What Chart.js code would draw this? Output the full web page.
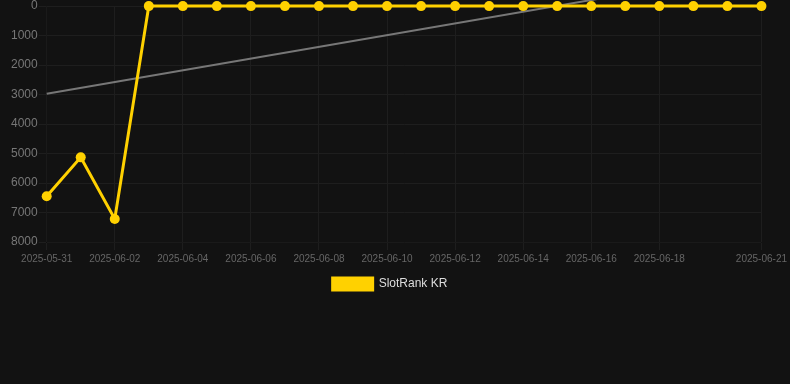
<!DOCTYPE html>
<html>
<head>
<meta charset="utf-8">
<script src="https://cdn.jsdelivr.net/npm/chart.js@4.4.1/dist/chart.umd.min.js"></script>
<style>
  html, body { margin: 0; padding: 0; background: #121212; }
  .wrap { position: relative; width: 790px; height: 300px; }
</style>
</head>
<body>
<div class="wrap"><canvas id="rankChart"></canvas></div>
<script>
  // Data
  const dates = ['2025-05-31','2025-06-01','2025-06-02','2025-06-03','2025-06-04','2025-06-05',
    '2025-06-06','2025-06-07','2025-06-08','2025-06-09','2025-06-10','2025-06-11','2025-06-12',
    '2025-06-13','2025-06-14','2025-06-15','2025-06-16','2025-06-17','2025-06-18','2025-06-19',
    '2025-06-20','2025-06-21'];
  const rankValues = [6450, 5130, 7220, 0, 0, 0, 0, 0, 0, 0, 0, 0, 0, 0, 0, 0, 0, 0, 0, 0, 0, 0];
  // trend line end points (first and last day)
  const trendValues = [2970, -1200];
  // dates shown on the x axis
  const xTickDates = ['2025-05-31','2025-06-02','2025-06-04','2025-06-06','2025-06-08','2025-06-10',
    '2025-06-12','2025-06-14','2025-06-16','2025-06-18','2025-06-21'];
  const yTicks = [0, 1000, 2000, 3000, 4000, 5000, 6000, 7000, 8000];

  const yellow = '#FFD100';

  new Chart(document.getElementById('rankChart'), {
    type: 'line',
    data: {
      labels: dates,
      datasets: [
        {
          label: 'SlotRank KR',
          data: rankValues,
          borderColor: yellow,
          backgroundColor: yellow,
          borderWidth: 3,
          pointRadius: 5,
          pointHoverRadius: 5,
          pointBackgroundColor: yellow,
          pointBorderWidth: 0,
          tension: 0,
          clip: false
        },
        {
          label: 'trend',
          data: [
            { x: dates[0], y: trendValues[0] },
            { x: dates[dates.length - 1], y: trendValues[1] }
          ],
          borderColor: '#777777',
          backgroundColor: '#777777',
          borderWidth: 2,
          pointRadius: 0,
          tension: 0,
          clip: false
        }
      ]
    },
    options: {
      responsive: true,
      maintainAspectRatio: false,
      animation: false,
      layout: { padding: { left: 10, right: 20 } },
      plugins: {
        legend: {
          position: 'bottom',
          labels: {
            color: '#dddddd',
            font: { size: 12, family: 'Liberation Sans, Arial, sans-serif' },
            filter: item => item.text !== 'trend'
          }
        },
        tooltip: { enabled: false }
      },
      scales: {
        x: {
          ticks: {
            autoSkip: false,
            maxRotation: 0,
            color: '#666666',
            font: { size: 10, family: 'Liberation Sans, Arial, sans-serif' }
          },
          afterBuildTicks: axis => {
            axis.ticks = axis.ticks.filter(t => xTickDates.includes(dates[t.value]));
          },
          grid: { color: '#1e1e1e' }
        },
        y: {
          reverse: true,
          min: 0,
          max: 8000,
          afterBuildTicks: axis => {
            axis.ticks = yTicks.map(v => ({ value: v }));
          },
          ticks: {
            color: '#777777',
            padding: 1,
            font: { size: 12, lineHeight: 0.85, family: 'Liberation Sans, Arial, sans-serif' },
            callback: v => String(v)
          },
          grid: { color: '#1e1e1e' }
        }
      }
    }
  });
</script>
</body>
</html>
